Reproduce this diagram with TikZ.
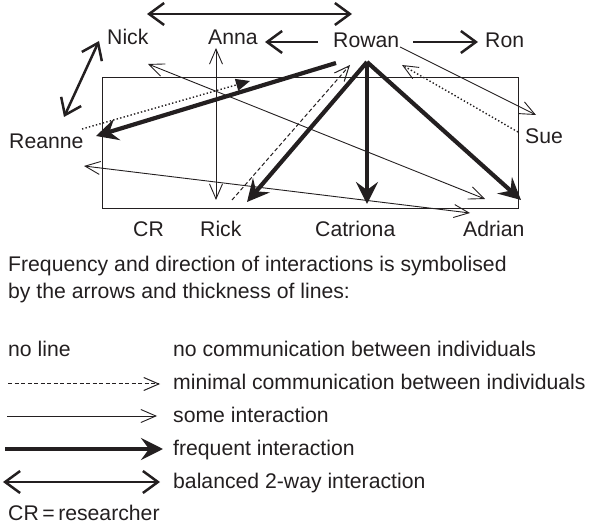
\documentclass[tikz,border=0pt]{standalone}
\usepackage{fontspec}
\setmainfont{Liberation Sans}
\usetikzlibrary{arrows.meta}
\definecolor{ink}{RGB}{35,31,32}
\tikzset{
  thinV/.tip={Straight Barb[length=15pt,width=13pt]},
  midV/.tip={Straight Barb[length=15pt,width=22pt]},
  bigS/.tip={Stealth[length=22pt,width=22pt,inset=8pt]},
  triS/.tip={Triangle[length=14pt,width=12pt]},
  lbl/.style={inner sep=0pt, anchor=base west, text=ink},
  someln/.style={draw=ink, line width=0.9pt, -thinV},
  somebi/.style={draw=ink, line width=0.9pt, thinV-thinV},
  minln/.style={draw=ink, line width=1pt, dash pattern=on 4pt off 2.5pt, -thinV},
  dotln/.style={draw=ink, line width=1.4pt, dash pattern=on 1.4pt off 2.2pt},
  freqln/.style={draw=ink, line width=4.2pt, -bigS},
  balln/.style={draw=ink, line width=2.5pt, midV-midV},
  oneln/.style={draw=ink, line width=2.5pt, -midV},
  boxln/.style={draw=ink, line width=0.9pt}
}
\begin{document}
\begin{tikzpicture}[x=1pt,y=-1pt,font=\fontsize{21.2}{25}\selectfont]
\useasboundingbox (0,0) rectangle (589,526);
% box
\draw[boxln] (102,77) rectangle (518,208);
% labels
\node[lbl] (nick) at (107,45) {Nick};
\node[lbl] (anna) at (208,45) {Anna};
\node[lbl] (rowan) at (333,48) {Rowan};
\node[lbl] (ron) at (485,48) {Ron};
\node[lbl] (reanne) at (9,149) {Reanne};
\node[lbl] (sue) at (525,144) {Sue};
\node[lbl] (cr) at (133,237) {CR};
\node[lbl] (rick) at (200,237) {Rick};
\node[lbl] (catriona) at (315,237) {Catriona};
\node[lbl] (adrian) at (463,237) {Adrian};
% coordinates
\coordinate (topL) at (147,14);
\coordinate (topR) at (352,14);
\coordinate (annaE) at (265,42);
\coordinate (rowanW) at (318,42);
\coordinate (rowanE) at (413,42);
\coordinate (ronW) at (478,42);
\coordinate (nickS) at (99,41);
\coordinate (reanneN) at (64,117);
\coordinate (annaS) at (216,48);
\coordinate (rickN) at (216,200);
\coordinate (nickE) at (148,64);
\coordinate (adrianN) at (485,199);
\coordinate (reanneE) at (84,166);
\coordinate (adrianW) at (470,213);
\coordinate (rowanL) at (336,63);
\coordinate (reanneR) at (96,136);
\coordinate (reanneD) at (82,129);
\coordinate (midTip) at (250,81);
\coordinate (rickD) at (232,200);
\coordinate (rowanD) at (350,65);
\coordinate (apex) at (367,62);
\coordinate (rickT) at (247,202);
\coordinate (catT) at (367,204);
\coordinate (adrT) at (521,200);
\coordinate (sueD) at (518,132);
\coordinate (rowanS) at (402,65);
\coordinate (rowanR) at (400,47);
\coordinate (sueT) at (536,115);
% connectors
\draw[balln] (topL) -- (topR);
\draw[oneln] (rowanW) -- (annaE);
\draw[oneln] (rowanE) -- (ronW);
\draw[balln] (nickS) -- (reanneN);
\draw[somebi] (annaS) -- (rickN);
\draw[somebi] (nickE) -- (adrianN);
\draw[somebi] (reanneE) -- (adrianW);
\draw[freqln] (rowanL) -- (reanneR);
\draw[dotln,-triS] (reanneD) -- (midTip);
\draw[minln] (rickD) -- (rowanD);
\draw[freqln] (apex) -- (rickT);
\draw[freqln] (apex) -- (catT);
\draw[freqln] (apex) -- (adrT);
\draw[dotln,-{Straight Barb[length=15pt,width=13pt,line width=0.9pt]}] (sueD) -- (rowanS);
\draw[someln] (rowanR) -- (sueT);
% legend
\node[lbl] (leg1) at (8,272) {Frequency and direction of interactions is symbolised};
\node[lbl] (leg2) at (8,299) {by the arrows and thickness of lines:};
\node[lbl] (noline) at (8,357) {no line};
\node[lbl] (d1) at (173,357) {no communication between individuals};
\node[lbl] (d2) at (173,390) {minimal communication between individuals};
\node[lbl] (d3) at (173,422) {some interaction};
\node[lbl] (d4) at (173,455) {frequent interaction};
\node[lbl] (d5) at (173,488) {balanced 2-way interaction};
\node[lbl] (crr) at (8,520) {CR\,=\,researcher};
\coordinate (l2a) at (8,384); \coordinate (l2b) at (160,384);
\coordinate (l3a) at (7,416); \coordinate (l3b) at (157,416);
\coordinate (l4a) at (5,449); \coordinate (l4b) at (163,449);
\coordinate (l5a) at (3,482); \coordinate (l5b) at (160,482);
\draw[minln] (l2a) -- (l2b);
\draw[someln] (l3a) -- (l3b);
\draw[freqln] (l4a) -- (l4b);
\draw[balln] (l5a) -- (l5b);
\end{tikzpicture}
\end{document}
